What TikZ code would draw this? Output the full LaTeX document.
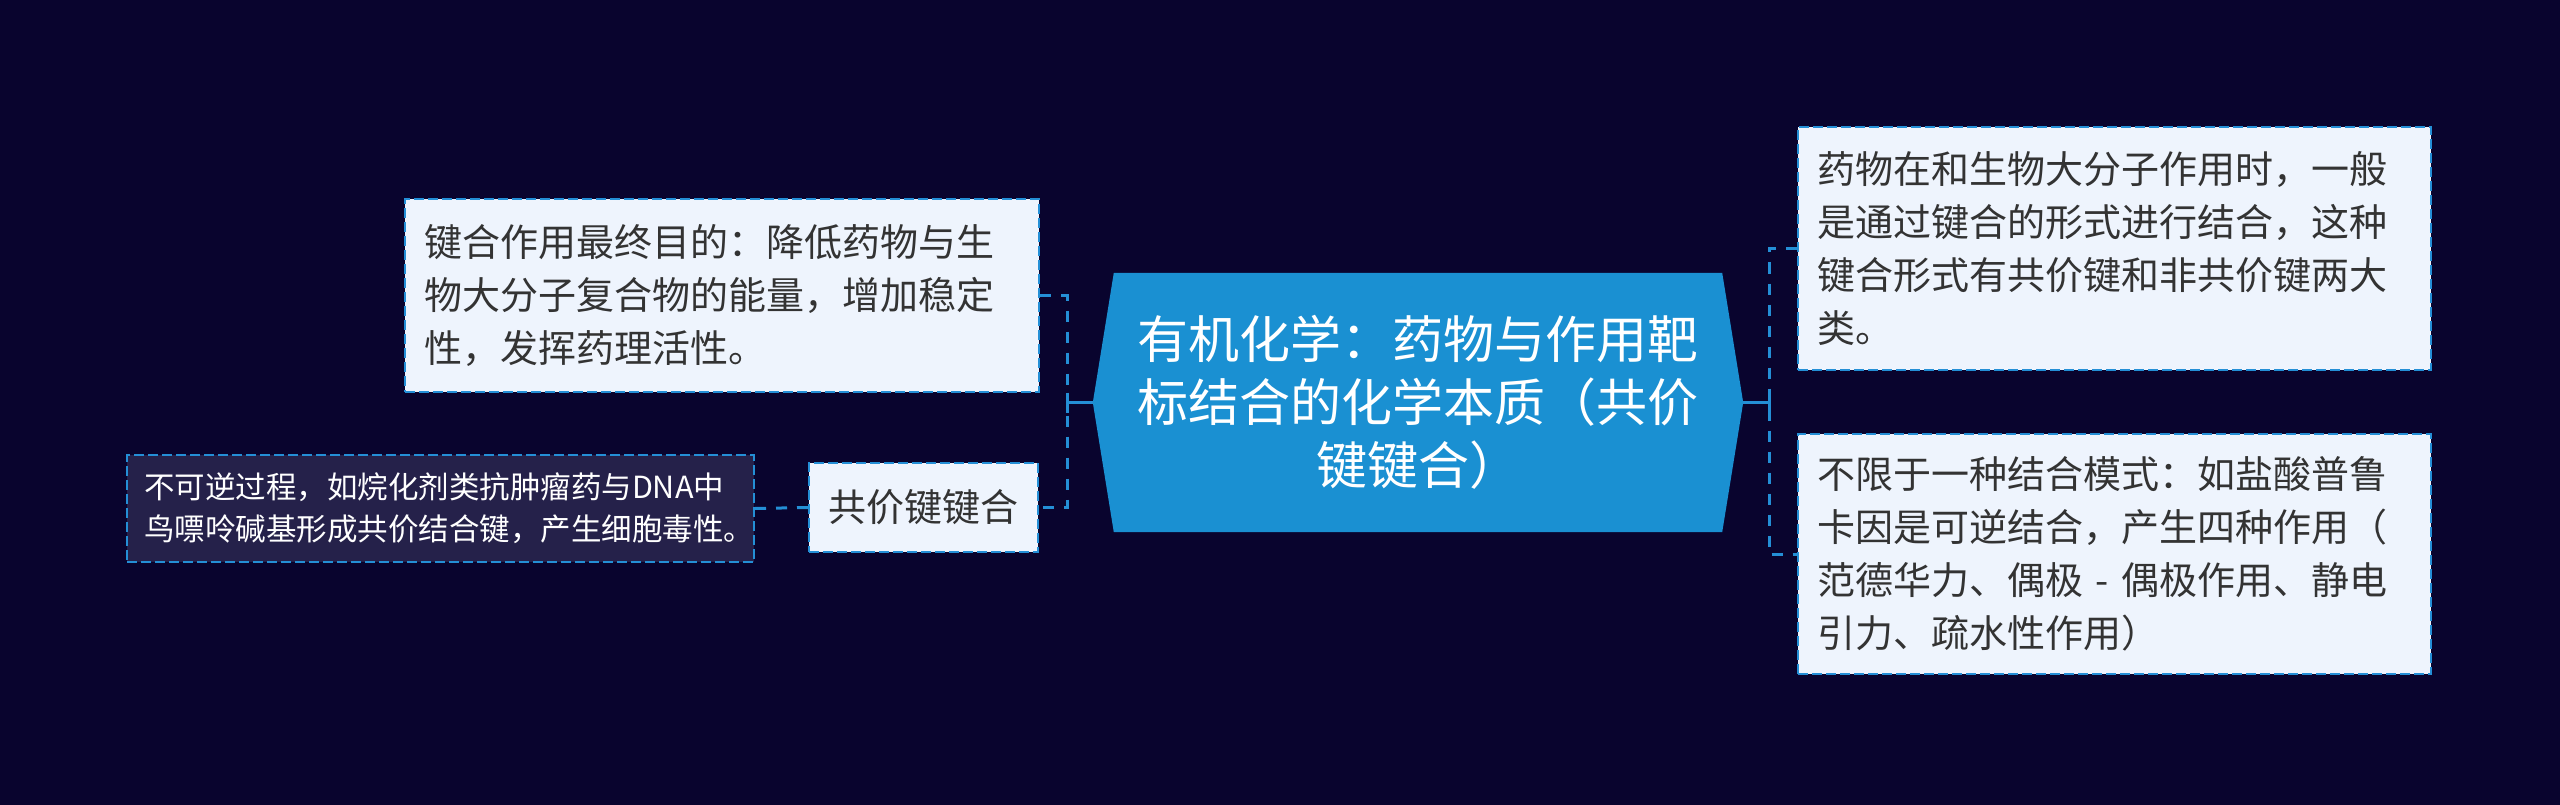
\documentclass[tikz,border=0pt]{standalone}
\usepackage{fontspec}
\setmainfont{Noto Sans CJK SC}
\usetikzlibrary{calc}
\definecolor{bgc}{RGB}{9,4,46}
\definecolor{hexfill}{RGB}{26,144,210}
\definecolor{boxfill}{RGB}{238,244,253}
\definecolor{darkfill}{RGB}{37,33,74}
\definecolor{bord}{RGB}{36,143,214}
\definecolor{txt}{RGB}{51,51,51}
\pgfdeclarelayer{bglayer}
\pgfdeclarelayer{hexlayer}
\pgfsetlayers{bglayer,hexlayer,main}
\begin{document}
\begin{tikzpicture}[x=1pt,y=-1pt,
  box/.style={draw=bord, line width=2pt, dash pattern=on 10pt off 4pt,
    fill=boxfill, text=txt, inner sep=0pt, align=left,
    font=\fontsize{38}{53}\selectfont},
  darkbox/.style={box, fill=darkfill, text=white,
    font=\fontsize{30.5}{42}\selectfont},
  centerbox/.style={inner sep=0pt, align=center, text=white,
    minimum width=650pt, minimum height=259pt,
    font=\fontsize{51}{63}\selectfont},
  connd/.style={draw=bord, line width=3pt, dash pattern=on 11pt off 10pt},
  conns/.style={draw=bord, line width=3pt}
]
\useasboundingbox (0,0) rectangle (2560,805);
\begin{pgfonlayer}{bglayer}
  \fill[bgc] (0,0) rectangle (2560,805);
\end{pgfonlayer}

\node[centerbox] (c) at (1418,402.5) {有机化学：药物与作用靶\\标结合的化学本质（共价\\键键合）};
\begin{pgfonlayer}{hexlayer}
  \fill[hexfill] ([xshift=21pt]c.north west) -- ([xshift=-21pt]c.north east)
    -- (c.east) -- ([xshift=-21pt]c.south east) -- ([xshift=21pt]c.south west)
    -- (c.west) -- cycle;
\end{pgfonlayer}

\node[box, minimum width=634pt, minimum height=193pt, text width=596pt] (lt) at (722,295.5)
  {键合作用最终目的：降低药物与生\\物大分子复合物的能量，增加稳定\\性，发挥药理活性。};
\node[box, align=center, minimum width=229pt, minimum height=89pt] (gj) at (923.5,507.5)
  {共价键键合};
\node[darkbox, minimum width=627pt, minimum height=107pt, text width=593pt] (fl) at (440.5,508.5)
  {不可逆过程，如烷化剂类抗肿瘤药与DNA中\\鸟嘌呤碱基形成共价结合键，产生细胞毒性。};
\node[box, minimum width=633pt, minimum height=243pt, text width=595pt] (rt) at (2114.5,248.5)
  {药物在和生物大分子作用时，一般\\是通过键合的形式进行结合，这种\\键合形式有共价键和非共价键两大\\类。};
\node[box, minimum width=633pt, minimum height=240pt, text width=595pt] (rb) at (2114.5,554)
  {不限于一种结合模式：如盐酸普鲁\\卡因是可逆结合，产生四种作用（\\范德华力、偶极 - 偶极作用、静电\\引力、疏水性作用）};

\coordinate (lj) at (1067,402.5);
\coordinate (rj) at (1769,402.5);

\draw[connd] (lt.east) -| (lj) |- (gj.east);
\draw[conns] (c.west) -- (lj);
\draw[conns] ([yshift=10pt]lj) -- ([yshift=-10pt]lj);
\draw[connd] (gj.west) -- (fl.east);

\draw[connd] (rt.west) -| (rj) |- (rb.west);
\draw[conns] (c.east) -- (rj);
\draw[conns] ([yshift=10pt]rj) -- ([yshift=-10pt]rj);
\end{tikzpicture}
\end{document}
